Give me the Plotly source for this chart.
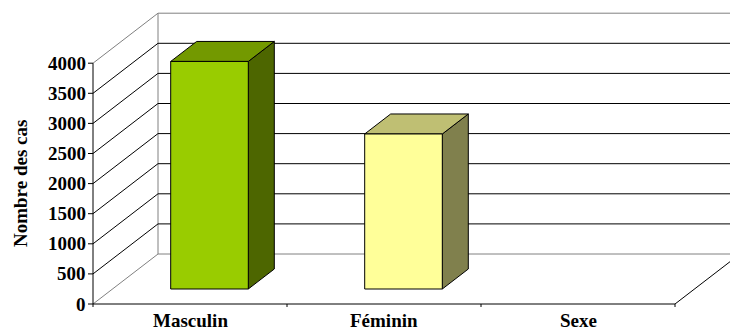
import plotly.graph_objects as go

# Data
categories = ["Masculin", "Féminin", "Sexe"]
values = [3780, 2575, None]
tick_values = [0, 500, 1000, 1500, 2000, 2500, 3000, 3500, 4000]
tick_labels = [str(v) for v in tick_values]
y_title = "Nombre des cas"

# Colours per bar: front, top, side
front_colors = ["#99CC00", "#FFFF99", "#CCCCCC"]
top_colors = ["#739900", "#BFBF73", "#999999"]
side_colors = ["#4D6600", "#80804D", "#666666"]

# Layout scale (pixels per category and per 500 units)
W, H = 730, 332
PX_CAT = 194.0
PX_500 = 30.1
ORIGIN_X, ORIGIN_Y = 93.0, 304.0
UPX = 500.0 / PX_500            # value units per pixel
DX = 65.0 / PX_CAT               # depth offset (category units)
DY = 50.0 * UPX                  # depth offset (value units)
N = len(categories)
VMAX = tick_values[-1]
HALF_W = 0.2                     # half bar width
F1, F2 = 0.3, 0.7                # bar depth (front/back fraction)

x_range = [-ORIGIN_X / PX_CAT, (W - ORIGIN_X) / PX_CAT]
y_range = [-(H - ORIGIN_Y) * UPX, ORIGIN_Y * UPX]

BLACK = "#000000"
GREY = "#808080"

fig = go.Figure()


def seg_trace(segs, color, width=1):
    xs, ys = [], []
    for (x0, y0), (x1, y1) in segs:
        xs += [x0, x1, None]
        ys += [y0, y1, None]
    fig.add_trace(go.Scatter(x=xs, y=ys, mode="lines",
                             line=dict(color=color, width=width),
                             hoverinfo="skip", showlegend=False))


# Walls and grid
black_segs, grey_segs = [], []
for v in tick_values:
    diag = ((0, v), (DX, v + DY))
    back = ((DX, v + DY), (N + DX, v + DY))
    if v in (0, VMAX):
        grey_segs += [diag, back]
    else:
        black_segs += [diag, back]
grey_segs.append(((DX, DY), (DX, VMAX + DY)))
black_segs.append(((0, 0), (0, VMAX)))                 # value axis
black_segs.append(((0, 0), (N, 0)))                    # floor front edge
black_segs.append(((N, 0), (N + DX, DY)))              # floor right edge
for v in tick_values:                                  # value ticks
    black_segs.append(((-5.0 / PX_CAT, v), (0, v)))
for i in range(N + 1):                                 # category ticks
    black_segs.append(((i, 0), (i, -3 * UPX)))
seg_trace(grey_segs, GREY)
seg_trace(black_segs, BLACK)

# 3D bars
for i, v in enumerate(values):
    if v is None:
        continue
    c = i + 0.5
    xl, xr = c - HALF_W, c + HALF_W
    fx, fy = F1 * DX, F1 * DY
    bx, by = F2 * DX, F2 * DY
    faces = [
        ([xr + fx, xr + bx, xr + bx, xr + fx, xr + fx],
         [fy, by, v + by, v + fy, fy], side_colors[i]),
        ([xl + fx, xr + fx, xr + bx, xl + bx, xl + fx],
         [v + fy, v + fy, v + by, v + by, v + fy], top_colors[i]),
        ([xl + fx, xr + fx, xr + fx, xl + fx, xl + fx],
         [fy, fy, v + fy, v + fy, fy], front_colors[i]),
    ]
    for xs, ys, col in faces:
        fig.add_trace(go.Scatter(x=xs, y=ys, mode="lines", fill="toself",
                                 fillcolor=col,
                                 line=dict(color=BLACK, width=1),
                                 hoverinfo="skip", showlegend=False))

font = dict(family="Liberation Serif", size=19, color="#000000",
            weight="bold")

annotations = []
for v, lab in zip(tick_values, tick_labels):
    annotations.append(dict(x=-6.0 / PX_CAT, y=v, xref="x", yref="y",
                            text=lab, showarrow=False, xanchor="right",
                            yanchor="middle", borderpad=0, font=font))
for i, lab in enumerate(categories):
    annotations.append(dict(x=i + 0.5, y=0, xref="x", yref="paper",
                            text=lab, showarrow=False, xanchor="center",
                            yanchor="bottom", borderpad=0, font=font))
annotations.append(dict(x=20.0 / W, y=1 - 184.0 / H, xref="paper",
                        yref="paper", text=y_title, showarrow=False,
                        textangle=-90, xanchor="center", yanchor="middle",
                        borderpad=0, font=font))

fig.update_layout(
    width=W, height=H,
    margin=dict(l=0, r=0, t=0, b=0),
    paper_bgcolor="white", plot_bgcolor="white",
    xaxis=dict(range=x_range, visible=False, fixedrange=True),
    yaxis=dict(range=y_range, visible=False, fixedrange=True),
    annotations=annotations,
    showlegend=False,
)

fig.write_html("out.html")
